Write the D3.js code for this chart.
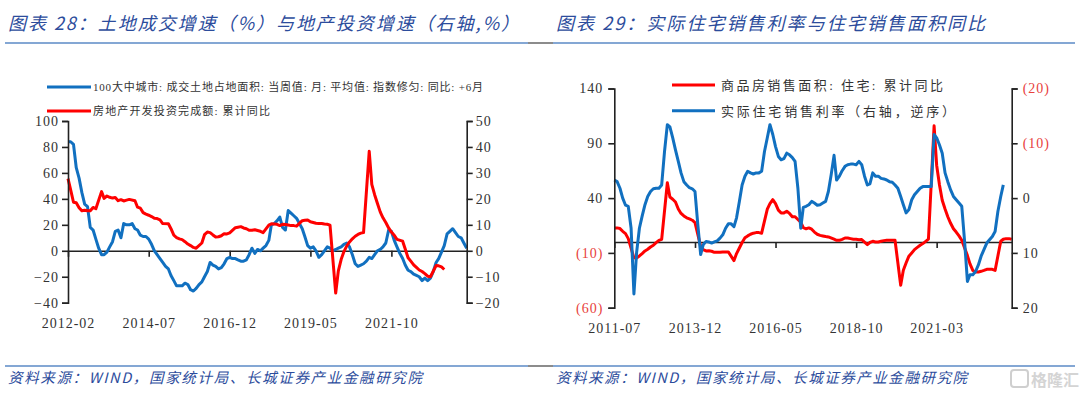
<!DOCTYPE html>
<html>
<head>
<meta charset="utf-8">
<title>图表28-29</title>
<script src="https://cdn.jsdelivr.net/npm/d3@7"></script>
<style>
  body { margin: 0; background: #fff; }
  svg text { font-family: "Liberation Serif", "Noto Sans CJK SC", serif; }
  .cjk { font-family: "Noto Sans CJK SC", sans-serif !important; }
</style>
</head>
<body>
<svg id="mainsvg" width="1080" height="394"></svg>
<script>
// ---------- 图表28 data (monthly, first month below) ----------
const landStart = '2012-02';
// 100大中城市: 成交土地占地面积 同比 (+6月), left axis
const landYoY = [84, 84, 82, 64, 56, 45, 36, 34, 18, 16,
  9, 2, -3, -3, -1, 3, 7, 15, 16, 10,
  21, 20, 20, 21, 17, 16, 12, 11, 11, 9,
  5, 0, -3, -6, -9, -12, -14, -19, -23, -27,
  -27, -27, -25, -26, -30, -31, -29, -26, -24, -20,
  -16, -9, -11, -12, -14, -13, -10, -6, -5, -6,
  -6, -7, -8, -8, -7, -3, 2, -2, 1, 0,
  2, 4, 8, 20, 21, 23, 26, 18, 16, 31,
  29, 27, 25, 21, 17, 11, 4, 2, 3, 0,
  -5, -3, 0, 3, 2, 0, 1, 2, 3, 5,
  6, 3, -3, -10, -12, -11, -10, -8, -5, -6,
  -3, 0, 1, 3, 6, 16, 15, 8, 3, -2,
  -6, -11, -15, -16, -18, -19, -20, -23, -21, -23,
  -21, -16, -9, -6, -1, 4, 13, 15, 17, 14,
  11, 10, 6, 2];
const investStart = '2012-02';
// 房地产开发投资完成额: 累计同比, right axis (null = 1月无数据)
const investYoY = [27.8, 23.5, 18.7, 18.5, 16.6, 15.4, 15.6, 15.4, 15.4, 16.7, 16.2, null,
  22.8, 20.2, 21.1, 20.6, 20.3, 20.5, 19.3, 19.7, 19.2, 19.5, 19.8, null,
  19.3, 16.8, 16.4, 14.7, 14.1, 13.7, 13.2, 12.5, 12.4, 11.9, 10.5, null,
  10.4, 8.5, 6.0, 5.1, 4.6, 4.3, 3.5, 2.6, 2.0, 1.3, 1.0, null,
  3.0, 6.2, 7.2, 7.0, 6.1, 5.3, 5.4, 5.8, 6.6, 6.5, 6.9, null,
  8.9, 9.1, 9.3, 8.8, 8.5, 7.9, 7.9, 8.1, 7.8, 7.5, 7.0, null,
  9.9, 10.4, 10.3, 10.2, 9.7, 10.2, 10.1, 9.9, 9.7, 9.7, 9.5, null,
  11.6, 11.8, 11.9, 11.2, 10.9, 10.6, 10.5, 10.5, 10.3, 10.2, 9.9, null,
  -16.3, -7.7, -3.3, -0.3, 1.9, 3.4, 4.6, 5.6, 6.3, 6.8, 7.0, null,
  38.3, 25.6, 21.6, 18.3, 15.0, 12.7, 10.9, 8.8, 7.2, 6.0, 4.4, null,
  3.7, 0.7, -2.7, -4.0, -5.4, -6.4, -7.4, -8.0, -8.8, -9.8, -10.0, null,
  -5.7, -5.8, -6.2, -7.2];
const chart28XTicks = ['2012-02', '2014-07', '2016-12', '2019-05', '2021-10'];
const chart28LeftTicks = [100, 80, 60, 40, 20, 0, -20, -40];
const chart28RightTicks = [50, 40, 30, 20, 10, 0, -10, -20];

// ---------- 图表29 data ----------
const salesStart = '2011-07';
// 商品房销售面积: 住宅: 累计同比, left axis
const salesAreaYoY = [12.8, 12.8, 12.2, 9.7, 7.6, 3, null, -14.5, -14.6, -12.8,
  -10.6, -8.2, -6.7, -4.6, -3, -0.6, 1.5, 2.4, null, 54,
  41, 39, 36.5, 30, 26, 23.7, 22, 21, 19.8, 17.6,
  null, -4, -7, -8.2, -8, -8.5, -9.5, -9.5, -9.5, -9.2,
  -9.1, -9.1, null, -17, -10.6, -5.5, -0.5, 3.8, 5.5, 7,
  8, 8.5, 8.5, 8, null, 30, 35, 38.6, 35, 29,
  26.5, 26.5, 28, 26, 23, 23, null, 18, 13, 12,
  12.8, 11.6, 9, 7, 6, 5.5, 5, 4.6, null, 2.5,
  1.5, 1.5, 2.4, 3.6, 3.6, 3, 2.4, 2.4, 2, 2.2,
  null, -2.4, -0.5, 0.6, 0, 0, 0.6, 1.2, 1.5, 1.5,
  1.5, 1.5, null, -39.5, -25.9, -19, -13, -10, -7, -5,
  -3, -1.5, 0.5, 2.5, null, 106, 70, 52, 38, 30,
  23, 17, 12, 9, 5.5, 1.5, null, -12.5, -20, -26,
  -27.4, -27.4, -26.8, -26, -25, -25, -25, -26, null, 0.6,
  2.4, 3, 3, 2.4];
// 实际住宅销售利率, right axis (reversed)
const realRate = [-3.3, -3, -1.8, 0, 1.3, 1.5, 5.5, 17.5, 10, 5.5,
  3.3, 1.2, -0.3, -1.2, -1.7, -1.8, -1.8, -2.4, -8.5, -13.4,
  -13, -11, -8.8, -6.7, -4.6, -3, -2.4, -1.9, -1.7, -1.2,
  4.9, 10.3, 8.5, 7.9, 8, 8.2, 8, 7.8, 7.3, 6.7,
  5.5, 4.7, 4.7, 5.2, 3.6, 0.6, -2.4, -4, -4.9, -4.6,
  -4.4, -4.6, -4.6, -4.9, -8.5, -11, -13.4, -11.6, -9.4, -7.6,
  -7, -7.2, -8.2, -7.9, -7.4, -6.7, -1.8, 5.5, 1.7, 1.5,
  1.2, 0.6, 0.9, 1.3, 1.2, 0.9, 0.6, -1.2, -4.3, -7.8,
  -3.3, -4, -5, -5.8, -6.1, -6.2, -6.2, -6.1, -6.7, -6.1,
  -4, -2.4, -2.6, -4.6, -4, -4, -3.6, -3.5, -3.3, -3,
  -2.9, -2.4, -1.8, -0.3, 1.2, 2.7, 2.1, 0.3, -0.6, -1.2,
  -1.8, -2.1, -2.1, -2.1, -2.1, -11.6, -11, -9.7, -8.2, -4.6,
  -3, -1.5, -0.3, 0.3, 0.9, 1.5, 7.9, 15.2, 14, 14,
  13.4, 12.2, 10.6, 9.4, 8.2, 7.6, 7, 6.1, 2.4, -0.3,
  -2.4];
const chart29XTicks = ['2011-07', '2013-12', '2016-05', '2018-10', '2021-03'];
const chart29LeftTicks = [140, 90, 40, -10, -60];
const chart29RightTicks = [-20, -10, 0, 10, 20];

// ---------- helpers ----------
const svg = d3.select('#mainsvg');
const BLUE = '#1170c0', RED = '#ff0000', AXIS = '#222', TITLE = '#2c4c9c', RULE = '#5b8ac6';
const parseMonth = d3.timeParse('%Y-%m');

function toPoints(start, values) {
  const t0 = parseMonth(start);
  return values.map((v, i) => ({ date: d3.timeMonth.offset(t0, i), value: v }))
    .filter(d => d.value !== null);
}
const acc = v => v < 0 ? '(' + Math.abs(v) + ')' : String(v);

function styleAxis(sel) {
  sel.select('.domain').attr('stroke', AXIS).attr('stroke-width', 1.6);
  sel.selectAll('.tick line').attr('stroke', AXIS).attr('stroke-width', 1.6);
  sel.selectAll('text').attr('font-size', 14).attr('fill', '#333').attr('letter-spacing', 1);
}

// ---------- frame: titles, rules, sources ----------
[[5, 528], [553, 1075]].forEach(([a, b]) => {
  svg.append('line').attr('x1', a).attr('x2', b).attr('y1', 43).attr('y2', 43).attr('stroke', RULE).attr('stroke-width', 1.5);
  svg.append('line').attr('x1', a).attr('x2', b).attr('y1', 366).attr('y2', 366).attr('stroke', RULE).attr('stroke-width', 1.5);
});
svg.append('line').attr('x1', 528).attr('x2', 553).attr('y1', 43).attr('y2', 43).attr('stroke', '#666').attr('stroke-width', 1.5);
svg.append('line').attr('x1', 528).attr('x2', 553).attr('y1', 366).attr('y2', 366).attr('stroke', '#666').attr('stroke-width', 1.5);

const titles = [
  { x: 8, w: 511, t: '图表 28：土地成交增速（%）与地产投资增速（右轴,%）' },
  { x: 556, w: 429, t: '图表 29：实际住宅销售利率与住宅销售面积同比' }
];
titles.forEach(d => {
  svg.append('text').attr('class', 'cjk').attr('x', d.x).attr('y', 30)
    .attr('font-size', 18).attr('font-style', 'italic').attr('fill', TITLE)
    .attr('textLength', d.w).attr('lengthAdjust', 'spacing').text(d.t);
});
[[8, 414], [556, 411]].forEach(([x, w]) => {
  svg.append('text').attr('class', 'cjk').attr('x', x).attr('y', 383)
    .attr('font-size', 14.5).attr('font-style', 'italic').attr('fill', TITLE)
    .attr('textLength', w).attr('lengthAdjust', 'spacing')
    .text('资料来源：WIND，国家统计局、长城证券产业金融研究院');
});
// watermark
svg.append('rect').attr('x', 1011).attr('y', 370).attr('width', 17).attr('height', 17).attr('rx', 3)
  .attr('fill', 'none').attr('stroke', '#cfcfcf').attr('stroke-width', 2);
svg.append('text').attr('class', 'cjk').attr('x', 1031).attr('y', 386).attr('font-size', 16)
  .attr('font-weight', 'bold').attr('fill', '#d4d4d4').text('格隆汇');

// ---------- 图表28 ----------
{
  const land = toPoints(landStart, landYoY);
  const invest = toPoints(investStart, investYoY);
  const x = d3.scaleTime().domain(d3.extent(land, d => d.date)).range([68, 466.7]);
  const yL = d3.scaleLinear().domain([-40, 100]).range([302.7, 121]);
  const yR = d3.scaleLinear().domain([-20, 50]).range([302.7, 121]);
  const g = svg.append('g');

  const ax = g.append('g').attr('transform', `translate(0,${yL(0)})`)
    .call(d3.axisBottom(x).tickValues(chart28XTicks.map(parseMonth)).tickSize(6).tickSizeOuter(0)
      .tickFormat(d3.timeFormat('%Y-%m')));
  styleAxis(ax);
  ax.selectAll('text').attr('y', 328 - yL(0)).attr('dy', 0);

  const lineL = d3.line().x(d => x(d.date)).y(d => yL(d.value));
  const lineR = d3.line().x(d => x(d.date)).y(d => yR(d.value));
  g.append('path').datum(land).attr('d', lineL).attr('fill', 'none').attr('stroke', BLUE)
    .attr('stroke-width', 3).attr('stroke-linejoin', 'round');
  g.append('path').datum(invest).attr('d', lineR).attr('fill', 'none').attr('stroke', RED)
    .attr('stroke-width', 3).attr('stroke-linejoin', 'round');

  styleAxis(g.append('g').attr('transform', 'translate(68,0)')
    .call(d3.axisLeft(yL).tickValues(chart28LeftTicks).tickSize(6).tickSizeOuter(6)));
  styleAxis(g.append('g').attr('transform', 'translate(466.7,0)')
    .call(d3.axisRight(yR).tickValues(chart28RightTicks).tickSize(6).tickSizeOuter(6)));

  const legend = [
    { c: BLUE, y: 87, w: 390, t: '100大中城市: 成交土地占地面积: 当周值: 月: 平均值: 指数修匀: 同比: +6月' },
    { c: RED, y: 111, w: 177, t: '房地产开发投资完成额: 累计同比' }
  ];
  legend.forEach(d => {
    g.append('line').attr('x1', 47).attr('x2', 91).attr('y1', d.y).attr('y2', d.y)
      .attr('stroke', d.c).attr('stroke-width', 3);
    g.append('text').attr('x', 93).attr('y', d.y + 4).attr('font-size', 11).attr('fill', '#333')
      .attr('textLength', d.w).attr('lengthAdjust', 'spacing').text(d.t);
  });
}

// ---------- 图表29 ----------
{
  const area = toPoints(salesStart, salesAreaYoY);
  const rate = toPoints(salesStart, realRate);
  const x = d3.scaleTime().domain(d3.extent(area, d => d.date)).range([614.3, 1011.7]);
  const yL = d3.scaleLinear().domain([-60, 140]).range([307.7, 88.5]);
  const yR = d3.scaleLinear().domain([-20, 20]).range([88.5, 307.7]);
  const g = svg.append('g');

  const ax = g.append('g').attr('transform', `translate(0,${yL(0)})`)
    .call(d3.axisBottom(x).tickValues(chart29XTicks.map(parseMonth)).tickSize(6).tickSizeOuter(0)
      .tickFormat(d3.timeFormat('%Y-%m')));
  styleAxis(ax);
  ax.selectAll('text').attr('y', 333 - yL(0)).attr('dy', 0);

  const lineL = d3.line().x(d => x(d.date)).y(d => yL(d.value));
  const lineR = d3.line().x(d => x(d.date)).y(d => yR(d.value));
  g.append('path').datum(area).attr('d', lineL).attr('fill', 'none').attr('stroke', RED)
    .attr('stroke-width', 3).attr('stroke-linejoin', 'round');
  g.append('path').datum(rate).attr('d', lineR).attr('fill', 'none').attr('stroke', BLUE)
    .attr('stroke-width', 3).attr('stroke-linejoin', 'round');

  const axL = g.append('g').attr('transform', 'translate(614.3,0)')
    .call(d3.axisLeft(yL).tickValues(chart29LeftTicks).tickSize(6).tickSizeOuter(6).tickPadding(5).tickFormat(acc));
  styleAxis(axL);
  axL.selectAll('.tick text').attr('fill', d => d < 0 ? '#e8413c' : '#333');
  const axR = g.append('g').attr('transform', 'translate(1011.7,0)')
    .call(d3.axisRight(yR).tickValues(chart29RightTicks).tickSize(6).tickSizeOuter(6).tickPadding(5).tickFormat(acc));
  styleAxis(axR);
  axR.selectAll('.tick text').attr('fill', d => d < 0 ? '#e8413c' : '#333');

  const legend = [
    { c: RED, y: 85, w: 222, t: '商品房销售面积: 住宅: 累计同比' },
    { c: BLUE, y: 110.7, w: 234, t: '实际住宅销售利率（右轴，逆序）' }
  ];
  legend.forEach(d => {
    g.append('line').attr('x1', 672).attr('x2', 715).attr('y1', d.y).attr('y2', d.y)
      .attr('stroke', d.c).attr('stroke-width', 3);
    g.append('text').attr('x', 721).attr('y', d.y + 5).attr('font-size', 13).attr('fill', '#333')
      .attr('textLength', d.w).attr('lengthAdjust', 'spacing').text(d.t);
  });
}
</script>
</body>
</html>
